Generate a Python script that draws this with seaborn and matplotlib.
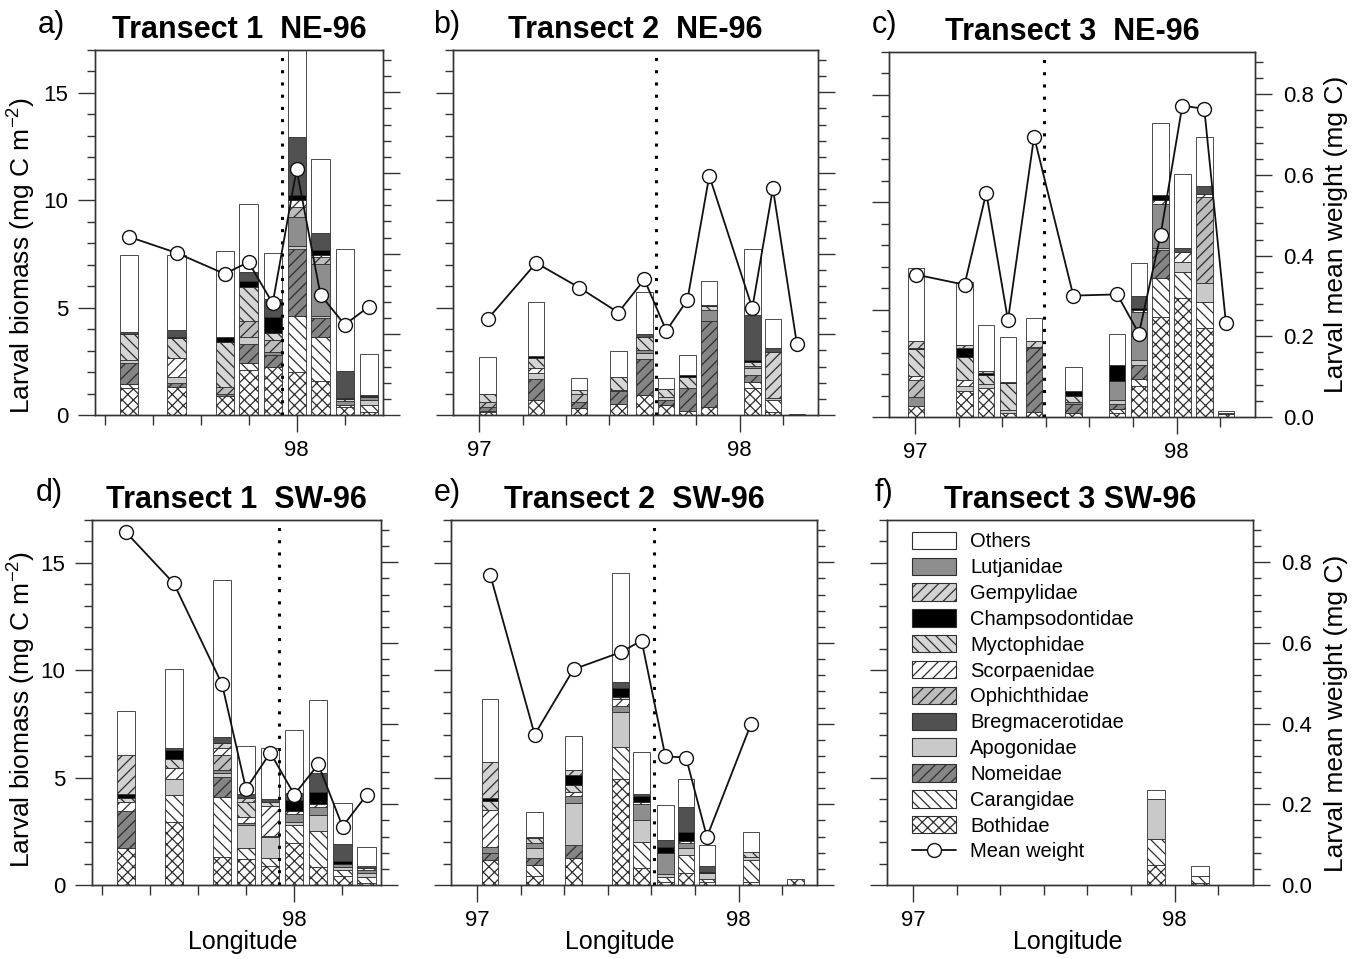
import numpy as np
import matplotlib
matplotlib.use("Agg")
from matplotlib import pyplot as plt
from matplotlib.patches import Patch
from matplotlib.lines import Line2D
from matplotlib.ticker import MultipleLocator, FixedLocator, FormatStrFormatter, NullFormatter
import seaborn as sns

sns.set_style("ticks")
plt.rcParams["font.family"] = ["Liberation Sans", "DejaVu Sans"]
plt.rcParams["mathtext.fontset"] = "custom"
plt.rcParams["mathtext.rm"] = "Liberation Sans"
plt.rcParams["mathtext.it"] = "Liberation Sans:italic"
plt.rcParams["hatch.linewidth"] = 0.9
plt.rcParams["hatch.color"] = "#222222"
plt.rcParams["text.color"] = "black"
plt.rcParams["axes.labelcolor"] = "black"
plt.rcParams["xtick.color"] = "black"
plt.rcParams["ytick.color"] = "black"

# stacking order, bottom -> top
families = ["Bothidae", "Carangidae", "Nomeidae", "Apogonidae", "Lutjanidae", "Ophichthidae",
            "Scorpaenidae", "Myctophidae", "Champsodontidae", "Gempylidae", "Bregmacerotidae", "Others"]
legend_order = ["Others", "Lutjanidae", "Gempylidae", "Champsodontidae", "Myctophidae", "Scorpaenidae",
                "Ophichthidae", "Bregmacerotidae", "Apogonidae", "Nomeidae", "Carangidae", "Bothidae"]

# biomass rows = stations, columns = families (order above), mg C m-2
a_lon = [97.417, 97.583, 97.75, 97.833, 97.917, 98.0, 98.083, 98.167, 98.25]
a_biomass = [
    [1.27, 0.16, 1.00, 0.13, 0, 0, 0, 1.19, 0, 0, 0.11, 3.61],
    [1.32, 0, 0.15, 0.31, 0, 0, 0.86, 0.93, 0.07, 0, 0.34, 3.46],
    [0.88, 0, 0.12, 0, 0, 0.32, 0, 2.09, 0.23, 0, 0, 3.99],
    [2.09, 0.34, 0.90, 0.28, 0, 0.76, 0, 1.57, 0.29, 0, 0.44, 3.17],
    [2.25, 0, 0.54, 0, 0.16, 0.54, 0, 0.31, 0.75, 0, 0.84, 2.14],
    [2.02, 2.58, 3.15, 0.11, 1.36, 0.47, 0.31, 0, 0.23, 0, 2.72, 5.05],
    [1.58, 2.06, 0.86, 0.10, 2.45, 0.31, 0.08, 0, 0.26, 0, 0.78, 3.46],
    [0.36, 0.12, 0, 0, 0.15, 0, 0, 0.12, 0.05, 0, 1.26, 5.69],
    [0.12, 0.35, 0, 0.23, 0.12, 0, 0, 0, 0.06, 0, 0.05, 1.89],
]
a_weight = [0.442, 0.402, 0.350, 0.379, 0.277, 0.609, 0.298, 0.224, 0.268]

b_lon = [97.033, 97.219, 97.384, 97.534, 97.634, 97.718, 97.799, 97.883, 98.048, 98.127, 98.219]
b_biomass = [
    [0.12, 0.08, 0.19, 0, 0, 0.20, 0, 0.41, 0, 0, 0, 1.68],
    [0.70, 0, 0.96, 0.28, 0, 0, 0.23, 0.47, 0.10, 0, 0, 2.50],
    [0.31, 0, 0.31, 0, 0, 0.38, 0, 0.16, 0, 0, 0, 0.55],
    [0.50, 0, 0.63, 0.05, 0, 0, 0, 0.57, 0, 0, 0, 1.24],
    [0.93, 0, 1.66, 0.31, 0.15, 0, 0, 0.59, 0, 0, 0.11, 1.99],
    [0.47, 0, 0.23, 0.12, 0, 0, 0, 0.37, 0, 0, 0, 0.55],
    [0.20, 0, 1.04, 0, 0, 0, 0, 0.54, 0.08, 0, 0, 0.92],
    [0.39, 0, 4.00, 0, 0.49, 0, 0, 0.19, 0.05, 0, 0, 1.11],
    [1.24, 0.31, 0.31, 0.31, 0.11, 0, 0, 0.20, 0.08, 0, 2.09, 3.10],
    [0.12, 0.58, 0, 0.08, 0, 0, 0, 0, 0, 2.17, 0.15, 1.35],
    [0, 0, 0, 0, 0, 0, 0, 0, 0, 0, 0.06, 0],
]
b_weight = [0.238, 0.377, 0.316, 0.254, 0.336, 0.209, 0.285, 0.593, 0.265, 0.562, 0.176]

c_lon = [97.004, 97.189, 97.272, 97.355, 97.455, 97.605, 97.773, 97.856, 97.939, 98.022, 98.106, 98.189]
c_biomass = [
    [0.50, 0, 0, 0, 0.43, 0.80, 0.19, 1.24, 0.04, 0.36, 0, 3.36],
    [1.19, 0, 0, 0.27, 0, 0, 0.27, 1.06, 0.41, 0.16, 0, 2.94],
    [1.35, 0, 0, 0.20, 0, 0, 0, 0.42, 0.10, 0.05, 0, 2.17],
    [0.19, 0, 0, 0.12, 0, 0, 0, 1.27, 0.06, 0, 0, 2.08],
    [0.22, 0, 2.98, 0, 0, 0, 0.08, 0, 0, 0.28, 0, 1.04],
    [0.19, 0, 0.43, 0, 0.08, 0, 0, 0.29, 0.20, 0, 0, 1.13],
    [0.19, 0.18, 0.25, 0.18, 0.86, 0, 0, 0, 0.77, 0, 0, 1.44],
    [1.46, 0.30, 0.67, 0.23, 2.25, 0, 0.09, 0, 0.06, 0, 0.57, 1.52],
    [4.67, 1.79, 1.31, 0.12, 2.02, 0, 0.21, 0, 0.21, 0, 0, 3.37],
    [5.53, 1.23, 0, 0.47, 0, 0, 0.46, 0, 0, 0, 0.20, 3.44],
    [4.13, 1.24, 0, 0.88, 0, 4.00, 0.12, 0, 0, 0, 0.39, 2.27],
    [0.12, 0, 0, 0, 0.05, 0, 0, 0, 0, 0, 0, 0.09],
]
c_weight = [0.353, 0.328, 0.556, 0.240, 0.695, 0.301, 0.304, 0.207, 0.452, 0.772, 0.764, 0.232]

d_lon = [97.417, 97.583, 97.75, 97.833, 97.917, 98.0, 98.083, 98.167, 98.25]
d_biomass = [
    [1.71, 0, 1.75, 0, 0, 0, 0.42, 0.17, 0.18, 1.82, 0, 2.04],
    [2.95, 1.24, 0, 0.77, 0, 0, 0.47, 0.46, 0.42, 0, 0.09, 3.68],
    [1.32, 2.79, 0.93, 0.16, 0.15, 0.70, 0.35, 0, 0, 0.20, 0.30, 7.29],
    [1.19, 0.52, 0, 1.08, 0.11, 0, 0.28, 0.70, 0, 0.15, 0.23, 2.21],
    [0.88, 0.36, 0, 1.01, 0.05, 0, 1.37, 0.21, 0, 0, 0.12, 2.36],
    [1.94, 0.85, 0, 0.16, 0.38, 0, 0.13, 0, 0.49, 0, 0.34, 2.92],
    [0.82, 1.71, 0, 0.73, 0.35, 0, 0.14, 0, 0.59, 0, 0.88, 3.38],
    [0.42, 0.28, 0, 0.15, 0.13, 0, 0, 0, 0.15, 0, 0.78, 1.93],
    [0.11, 0.28, 0, 0.15, 0.16, 0, 0.11, 0, 0, 0, 0.09, 0.85],
]
d_weight = [0.875, 0.748, 0.498, 0.238, 0.328, 0.224, 0.299, 0.145, 0.223]

e_lon = [97.05, 97.22, 97.369, 97.549, 97.629, 97.72, 97.799, 97.879, 98.048, 98.217]
e_biomass = [
    [1.16, 0, 0.31, 0, 0.28, 0, 1.74, 0.43, 0.11, 1.71, 0, 2.94],
    [0.42, 0.51, 0.31, 0.47, 0.23, 0, 0, 0.23, 0, 0.08, 0, 1.16],
    [1.24, 0, 0.62, 1.94, 0.34, 0, 0.20, 0.31, 0.47, 0.23, 0, 1.58],
    [4.96, 1.47, 0, 1.63, 0.27, 0, 0.31, 0.12, 0.43, 0, 0.27, 5.07],
    [0.78, 1.24, 0, 1.03, 0.72, 0, 0.11, 0, 0.26, 0, 0.12, 1.94],
    [0.16, 0.20, 0, 0.15, 0.96, 0, 0, 0, 0.28, 0, 0.34, 1.63],
    [0.54, 0.86, 0, 0.31, 0.23, 0, 0.12, 0, 0.42, 0, 1.16, 1.32],
    [0.12, 0.14, 0, 0.28, 0, 0, 0, 0, 0.08, 0, 0.26, 0.98],
    [0.16, 1.00, 0, 0.16, 0, 0, 0, 0.23, 0, 0, 0, 0.93],
    [0.26, 0, 0, 0, 0, 0, 0, 0, 0, 0, 0, 0],
]
e_weight_lon = [97.05, 97.22, 97.369, 97.549, 97.629, 97.72, 97.799, 97.879, 98.048]
e_weight = [0.769, 0.373, 0.535, 0.577, 0.606, 0.319, 0.316, 0.119, 0.400]

f_lon = [97.929, 98.098]
f_biomass = [
    [0.93, 1.21, 0, 1.88, 0, 0, 0, 0, 0, 0, 0, 0.39],
    [0.08, 0.35, 0, 0, 0, 0, 0, 0, 0, 0, 0, 0.44],
]

fronts = {"a": 97.951, "b": 97.679, "c": 97.493, "d": 97.948, "e": 97.677}
titles = {"a": "Transect 1  NE-96", "b": "Transect 2  NE-96", "c": "Transect 3  NE-96",
          "d": "Transect 1  SW-96", "e": "Transect 2  SW-96", "f": "Transect 3 SW-96"}

face = {"Bothidae": "white", "Carangidae": "white", "Nomeidae": "#858585", "Apogonidae": "#c9c9c9",
        "Lutjanidae": "#8e8e8e", "Ophichthidae": "#bdbdbd", "Scorpaenidae": "white",
        "Myctophidae": "#d6d6d6", "Champsodontidae": "black", "Gempylidae": "#d2d2d2",
        "Bregmacerotidae": "#515151", "Others": "white"}
hatch = {"Bothidae": "xxx", "Carangidae": "\\\\\\", "Nomeidae": "///", "Apogonidae": None,
         "Lutjanidae": None, "Ophichthidae": "///", "Scorpaenidae": "///", "Myctophidae": "\\\\\\",
         "Champsodontidae": None, "Gempylidae": "///", "Bregmacerotidae": None, "Others": None}
edge = "#2e2e2e"

fig = plt.figure(figsize=(13.65, 9.59), dpi=100)
W, H = 1365.0, 959.0
rects = {"a": (95, 50, 383, 415), "b": (453, 50, 818, 415), "c": (889, 52, 1255, 417),
         "d": (92, 520, 381, 885), "e": (451, 520, 817, 885), "f": (887, 520, 1253, 885)}


def make_axes(key):
    x0, y0, x1, y1 = rects[key]
    return fig.add_axes([x0 / W, 1 - y1 / H, (x1 - x0) / W, (y1 - y0) / H])


def style_axes(ax, ax2, xlim, left_labels, right_labels):
    ax.set_xlim(*xlim)
    ax.set_ylim(0, 17)
    ax2.set_ylim(0, 0.905)
    ax.xaxis.set_major_locator(FixedLocator([97, 98]))
    ax.xaxis.set_major_formatter(FormatStrFormatter("%d"))
    ax.xaxis.set_minor_locator(FixedLocator(np.arange(96, 99.01, 1 / 6)))
    ax.yaxis.set_major_locator(MultipleLocator(5))
    ax.yaxis.set_minor_locator(MultipleLocator(1))
    ax2.yaxis.set_major_locator(MultipleLocator(0.2))
    ax2.yaxis.set_minor_locator(MultipleLocator(0.04))
    ax2.yaxis.set_major_formatter(FormatStrFormatter("%.1f"))
    ax.tick_params(axis="x", which="major", direction="out", length=12, width=1, pad=6,
                   labelsize=16, color="#333333", top=False)
    ax.tick_params(axis="x", which="minor", direction="out", length=7, width=1, color="#333333", top=False)
    ax.tick_params(axis="y", which="major", direction="out", length=12, width=1, pad=7,
                   labelsize=16, color="#333333", left=True, right=False)
    ax.tick_params(axis="y", which="minor", direction="out", length=6, width=1, color="#333333",
                   left=True, right=False)
    ax2.tick_params(axis="y", which="major", direction="out", length=12, width=1, pad=8,
                    labelsize=16, color="#333333", right=True, left=False)
    ax2.tick_params(axis="y", which="minor", direction="out", length=6, width=1, color="#333333",
                    right=True, left=False)
    if not left_labels:
        ax.yaxis.set_major_formatter(NullFormatter())
    if not right_labels:
        ax2.yaxis.set_major_formatter(NullFormatter())
    for a in (ax, ax2):
        for s in a.spines.values():
            s.set_visible(True)
            s.set_color("#333333")
            s.set_linewidth(1.0)


def draw_bars(ax, lon, biomass, width):
    x = np.array(lon)
    bio = np.array(biomass)
    bottom = np.zeros(len(x))
    for j, fam in enumerate(families):
        h = bio[:, j]
        keep = h > 0
        if keep.any():
            ax.bar(x[keep], h[keep], width, bottom=bottom[keep], color=face[fam], hatch=hatch[fam],
                   edgecolor=edge, linewidth=0.6, zorder=2)
        bottom += h


def draw_weight(ax2, lon, weight):
    sns.lineplot(x=lon, y=weight, ax=ax2, color="#111111", linewidth=1.3, marker="o",
                 markersize=10, markerfacecolor="white", markeredgecolor="#111111",
                 markeredgewidth=1.0, zorder=5)
    ax2.set_xlabel("")
    ax2.set_ylabel("")


panels = [
    ("a", a_lon, a_biomass, a_lon, a_weight, (97.30, 98.30), True, False),
    ("b", b_lon, b_biomass, b_lon, b_weight, (96.90, 98.30), False, False),
    ("c", c_lon, c_biomass, c_lon, c_weight, (96.90, 98.30), False, True),
    ("d", d_lon, d_biomass, d_lon, d_weight, (97.30, 98.30), True, False),
    ("e", e_lon, e_biomass, e_weight_lon, e_weight, (96.90, 98.30), False, False),
    ("f", f_lon, f_biomass, None, None, (96.90, 98.30), False, True),
]

for key, lon, bio, wlon, w, xlim, ll, rl in panels:
    ax = make_axes(key)
    ax2 = ax.twinx()
    draw_bars(ax, lon, bio, 0.07 if key == "f" else 0.063)
    if key in fronts:
        ax.axvline(fronts[key], color="black", linestyle=(0, (1, 3)), linewidth=2.2, zorder=3)
    if w is not None:
        draw_weight(ax2, wlon, w)
    style_axes(ax, ax2, xlim, ll, rl)
    ax.set_title(titles[key], fontsize=22, fontweight="bold", pad=9)
    if key in ("a", "d"):
        ax.set_ylabel("Larval biomass (mg C m$^{-2}$)", fontsize=19)
        x0 = rects[key][0]
        ax.yaxis.set_label_coords((38 - x0) / (rects[key][2] - x0), 0.438 if key == "a" else 0.482)
    if key in ("c", "f"):
        ax2.set_ylabel("Larval mean weight (mg C)", fontsize=19)
        x0 = rects[key][0]
        ax2.yaxis.set_label_coords((1324 - x0) / (rects[key][2] - x0), 0.5 if key == "c" else 0.47)
    if key in ("d", "e", "f"):
        ax.set_xlabel("Longitude", fontsize=18)
        xc = {"d": 0.52, "e": 0.46, "f": 0.495}[key]
        ax.xaxis.set_label_coords(xc, -0.124)
    if key == "f":
        handles = []
        for fam in legend_order:
            handles.append(Patch(facecolor=face[fam], hatch=hatch[fam], edgecolor=edge,
                                 linewidth=0.8, label=fam))
        handles.append(Line2D([0], [0], color="#111111", linewidth=1.3, marker="o", markersize=10,
                              markerfacecolor="white", markeredgecolor="#111111", label="Mean weight"))
        ax.legend(handles=handles, loc="upper left", bbox_to_anchor=(0.068, 0.968), frameon=False,
                  fontsize=14.5, handlelength=2.2, handleheight=0.95, labelspacing=0.31,
                  handletextpad=0.7, borderpad=0, borderaxespad=0)

labels = {"a": (38, 25), "b": (433, 25), "c": (872, 25), "d": (36, 493), "e": (434, 493), "f": (875, 493)}
for k, (px, py) in labels.items():
    fig.text(px / W, 1 - py / H, k + ")", fontsize=22, va="center", ha="left")

fig.savefig("out.png", dpi=100)
